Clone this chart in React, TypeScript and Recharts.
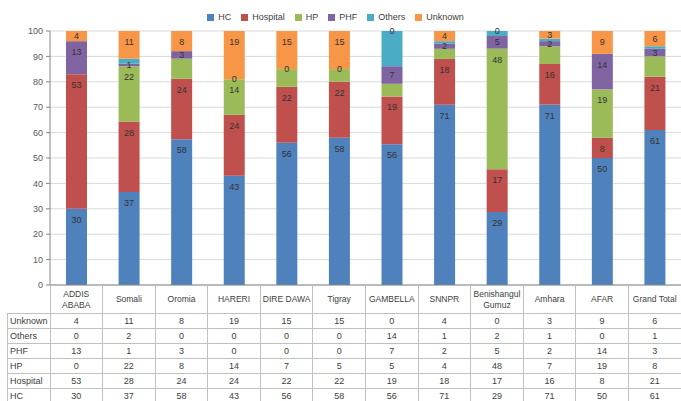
import { BarChart, Bar, XAxis, YAxis, CartesianGrid, Legend, LabelList } from 'recharts'

const regions = ['ADDIS ABABA', 'Somali', 'Oromia', 'HARERI', 'DIRE DAWA', 'Tigray', 'GAMBELLA', 'SNNPR', 'Benishangul Gumuz', 'Amhara', 'AFAR', 'Grand Total']
const headerLines = [['ADDIS', 'ABABA'], ['Somali'], ['Oromia'], ['HARERI'], ['DIRE DAWA'], ['Tigray'], ['GAMBELLA'], ['SNNPR'], ['Benishangul', 'Gumuz'], ['Amhara'], ['AFAR'], ['Grand Total']]

const hc = [30, 37, 58, 43, 56, 58, 56, 71, 29, 71, 50, 61]
const hospital = [53, 28, 24, 24, 22, 22, 19, 18, 17, 16, 8, 21]
const hp = [0, 22, 8, 14, 7, 5, 5, 4, 48, 7, 19, 8]
const phf = [13, 1, 3, 0, 0, 0, 7, 2, 5, 2, 14, 3]
const others = [0, 2, 0, 0, 0, 0, 14, 1, 2, 1, 0, 1]
const unknown = [4, 11, 8, 19, 15, 15, 0, 4, 0, 3, 9, 6]

const yTicks = [0, 0.1, 0.2, 0.3, 0.4, 0.5, 0.6, 0.7, 0.8, 0.9, 1]

const seriesOrder = ['HC', 'Hospital', 'HP', 'PHF', 'Others', 'Unknown']

const colors = {
  HC: '#4F81BD',
  Hospital: '#C0504D',
  HP: '#9BBB59',
  PHF: '#8064A2',
  Others: '#4BACC6',
  Unknown: '#F79646',
}

const data = regions.map((name, i) => ({
  name,
  HC: hc[i],
  Hospital: hospital[i],
  HP: hp[i],
  PHF: phf[i],
  Others: others[i],
  Unknown: unknown[i],
}))

// table rows, top to bottom as in the sheet
const tableRows = [
  { name: 'Unknown', values: unknown },
  { name: 'Others', values: others },
  { name: 'PHF', values: phf },
  { name: 'HP', values: hp },
  { name: 'Hospital', values: hospital },
  { name: 'HC', values: hc },
]

const FONT = '"Liberation Sans", Arial, sans-serif'
const BORDER = '#c0c0c0'
const TEXT = '#404040'
const HEADER_H = 28
const ROW_H = 15
const ROW_LABEL_LEFT = 7

const labelText = (x: number, y: number, value: any) => (
  <text x={x} y={y} textAnchor="middle" dominantBaseline="central" fontSize={9} fill="#333" fontFamily={FONT}>
    {value}
  </text>
)

// label inside the top of each segment, centred when the segment is thin
const segLabel = (min: number) => (props: any) => {
  const vb = props.viewBox || props
  const { x, y, width, height } = vb
  const value = props.value
  if (value == null || value < min || value === 0) return null
  const cy = height < 18 ? y + height / 2 : y + 11
  return labelText(x + width / 2, cy, value)
}

// zero-height segments get no rect, so their "0" is drawn at the top of the segment below
const zeroLabel = (props: any) => {
  const vb = props.viewBox || props
  const { x, y, width } = vb
  if (props.value !== 0) return null
  return labelText(x + width / 2, y, 0)
}

const TableColumn = (props: any) => {
  const { x, y, payload } = props
  const i = payload.index
  const half = payload.offset || 26.3
  const left = x - half
  const right = x + half
  const bottom = y + HEADER_H + ROW_H * tableRows.length
  const lines = headerLines[i]
  const isLast = i === regions.length - 1
  return (
    <g shapeRendering="crispEdges">
      <line x1={left} x2={left} y1={y} y2={bottom} stroke={BORDER} />
      {isLast && <line x1={right} x2={right} y1={y} y2={bottom} stroke={BORDER} />}
      {lines.map((ln, k) => (
        <text key={k} x={x} y={y + HEADER_H / 2 + (k - (lines.length - 1) / 2) * 11} textAnchor="middle" dominantBaseline="central" fontSize={8.5} fill={TEXT} fontFamily={FONT}>
          {ln}
        </text>
      ))}
      {tableRows.map((row, r) => {
        const top = y + HEADER_H + r * ROW_H
        return (
          <g key={row.name}>
            <line x1={left} x2={right} y1={top} y2={top} stroke={BORDER} />
            <text x={x} y={top + ROW_H / 2} textAnchor="middle" dominantBaseline="central" fontSize={9} fill={TEXT} fontFamily={FONT}>
              {row.values[i]}
            </text>
          </g>
        )
      })}
      {i === 0 && (
        <g>
          <line x1={ROW_LABEL_LEFT} x2={ROW_LABEL_LEFT} y1={y + HEADER_H} y2={bottom} stroke={BORDER} />
          {tableRows.map((row, r) => {
            const top = y + HEADER_H + r * ROW_H
            return (
              <g key={row.name}>
                <line x1={ROW_LABEL_LEFT} x2={left} y1={top} y2={top} stroke={BORDER} />
                <text x={ROW_LABEL_LEFT + 3} y={top + ROW_H / 2} dominantBaseline="central" fontSize={9} fill={TEXT} fontFamily={FONT}>
                  {row.name}
                </text>
              </g>
            )
          })}
        </g>
      )}
    </g>
  )
}

export default function App() {
  return (
    <div style={{ position: 'absolute', left: 0, top: 0, width: 681, height: 401, background: '#fff', fontFamily: FONT }}>
      <BarChart
        width={681}
        height={401}
        data={data}
        stackOffset="expand"
        barSize={21}
        margin={{ top: 12, right: 0, left: 0, bottom: 0 }}
      >
        <Legend
          verticalAlign="top"
          align="center"
          height={19}
          iconType="square"
          iconSize={7}
          itemSorter={(item: any) => seriesOrder.indexOf(item.value)}
          wrapperStyle={{ fontSize: 9, fontFamily: FONT }}
          formatter={(v: string) => <span style={{ color: TEXT }}>{v}</span>}
        />
        <CartesianGrid vertical={false} stroke="#d9d9d9" />
        <XAxis
          dataKey="name"
          height={116}
          interval={0}
          tickSize={0}
          tickMargin={0}
          tickLine={false}
          axisLine={{ stroke: '#868686' }}
          tick={<TableColumn />}
        />
        <YAxis
          width={50}
          domain={[0, 1]}
          ticks={yTicks}
          tickFormatter={(v: number) => String(Math.round(v * 100))}
          tickSize={4}
          tickMargin={3}
          axisLine={{ stroke: '#868686' }}
          tickLine={{ stroke: '#868686' }}
          tick={{ fontSize: 9, fill: '#595959', fontFamily: FONT }}
        />
        <Bar dataKey="HC" stackId="a" fill={colors.HC} isAnimationActive={false}>
          <LabelList dataKey="HC" content={segLabel(0)} />
        </Bar>
        <Bar dataKey="Hospital" stackId="a" fill={colors.Hospital} isAnimationActive={false}>
          <LabelList dataKey="Hospital" content={segLabel(0)} />
        </Bar>
        <Bar dataKey="HP" stackId="a" fill={colors.HP} isAnimationActive={false}>
          <LabelList dataKey="HP" content={segLabel(10)} />
          <LabelList dataKey="PHF" content={zeroLabel} />
        </Bar>
        <Bar dataKey="PHF" stackId="a" fill={colors.PHF} isAnimationActive={false}>
          <LabelList dataKey="PHF" content={segLabel(0)} />
        </Bar>
        <Bar dataKey="Others" stackId="a" fill={colors.Others} isAnimationActive={false}>
          <LabelList dataKey="Unknown" content={zeroLabel} />
        </Bar>
        <Bar dataKey="Unknown" stackId="a" fill={colors.Unknown} isAnimationActive={false}>
          <LabelList dataKey="Unknown" content={segLabel(0)} />
        </Bar>
      </BarChart>
    </div>
  )
}
